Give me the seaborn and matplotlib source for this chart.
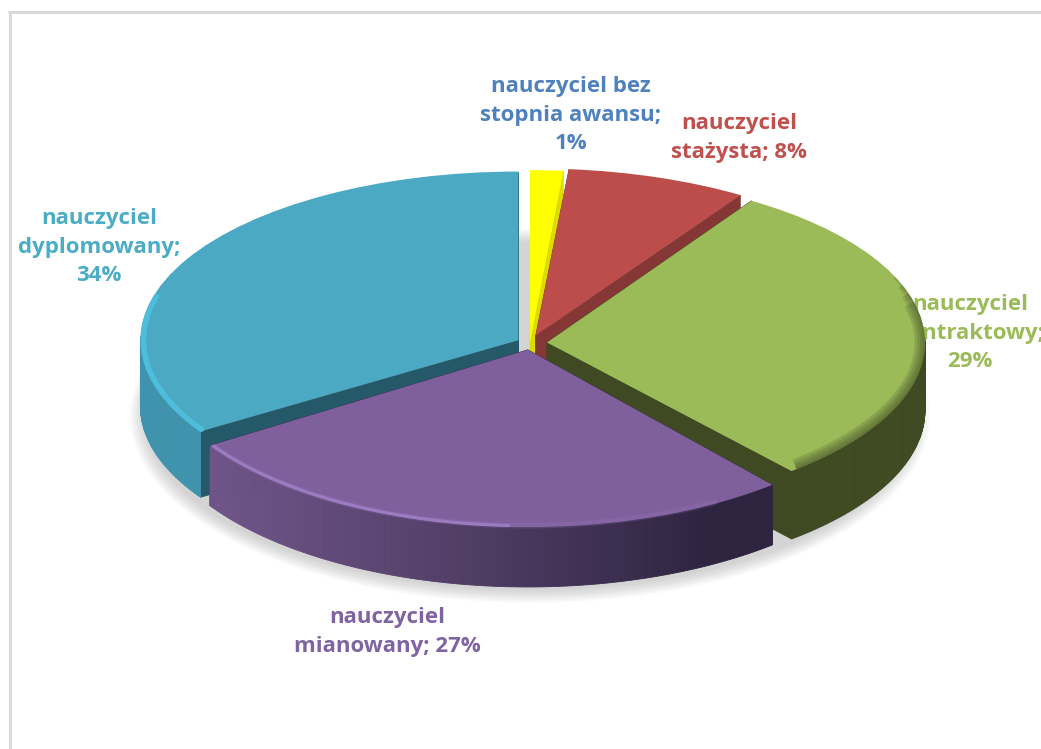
import numpy as np
import matplotlib
matplotlib.use("Agg")
import matplotlib.pyplot as plt
from matplotlib.colors import to_rgb
from matplotlib.patches import Ellipse
from matplotlib.transforms import Affine2D
import seaborn as sns

# dane
labels = ["nauczyciel bez\nstopnia awansu;\n1%", "nauczyciel\nstażysta; 8%",
          "nauczyciel\nkontraktowy;\n29%", "nauczyciel\nmianowany; 27%",
          "nauczyciel\ndyplomowany;\n34%"]
shares = [1.4, 7.7, 29.7, 27.1, 34.1]
explode = [0.005, 0.047, 0.045, 0.04, 0.035]
top_colors = ["#FFFF00", "#BC4D4A", "#9BBB59", "#7F5F9C", "#4BA9C4"]
face_colors = ["#DCDC00", "#843735", "#3F4A22", "#3A2C4C", "#255868"]
side_colors = ["#DCDC00", "#843735", "#3F4A22", "#6B5285", "#3F93AC"]
text_colors = ["#4F81BD", "#C0504D", "#9BBB59", "#8064A2", "#4BACC6"]
label_pos = [(571, 115), (739, 138), (970, 333), (387, 632), (99, 247)]
y_scale = [1.0, 0.97, 0.98, 1.03, 0.98]
depth_px = [62, 62, 68, 60, 66]

# geometria w pikselach
W, H = 1041, 749
CX, CY, RX, RY = 530, 343, 378, 172

sns.set_theme(style="white")
plt.rcParams["font.family"] = ["Open Sans", "DejaVu Sans"]

fig = plt.figure(figsize=(W / 100, H / 100), dpi=100)
ax = fig.add_axes([0, 0, 1, 1])

wedges, _ = ax.pie(shares, explode=explode, colors=sns.color_palette(top_colors),
                   startangle=90, counterclock=False, radius=1, center=(0, 0),
                   wedgeprops={"linewidth": 0})
ax.set_aspect("auto")
ax.set_xlim(-CX / RX, (W - CX) / RX)
ax.set_ylim((CY - H) / RY, CY / RY)
ax.axis("off")

# cien pod wykresem
for k in range(12):
    ax.add_patch(Ellipse((0, -73 / RY), 2 * (400 - k * 1.4) / RX, 2 * (187 - k * 1.2) / RY,
                         color="#9A9A9A", alpha=0.04, lw=0, zorder=1))


def arc(w, sy, theta, r=1.0):
    t = np.radians(theta)
    x0, y0 = w.center
    return x0 + r * np.cos(t), y0 + r * sy * np.sin(t)


def mix(c1, c2, f):
    a, b = np.array(to_rgb(c1)), np.array(to_rgb(c2))
    return tuple(a + (b - a) * f)


# kolejnosc od tylu do przodu
order = [4, 0, 1, 2, 3]
for z, i in enumerate(order):
    w = wedges[i]
    sy = y_scale[i]
    depth = depth_px[i] / RY
    base = 10 + z * 10
    x0, y0 = w.center

    # sciany wewnetrzne
    for th in (w.theta1, w.theta2):
        xe, ye = arc(w, sy, th)
        ax.fill([x0, xe, xe, x0], [y0, ye, ye - depth, y0 - depth],
                color=face_colors[i], lw=0.5, zorder=base)

    # sciana boczna
    thetas = np.linspace(w.theta1, w.theta2, 160)
    for a, b in zip(thetas[:-1], thetas[1:]):
        if np.sin(np.radians((a + b) / 2)) > 0.02:
            continue
        xa, ya = arc(w, sy, a)
        xb, yb = arc(w, sy, b)
        col = side_colors[i]
        if i == 3:
            f = (xa - (-0.83)) / (1.29)
            col = mix("#6E5488", "#2E2440", np.clip(f, 0, 1) ** 1.1)
        ax.fill([xa, xb, xb, xa], [ya, yb, yb - depth, ya - depth],
                color=col, lw=0.6, zorder=base + 1)

    w.set_transform(Affine2D().translate(-x0, -y0).scale(1, sy).translate(x0, y0) + ax.transData)
    w.set_zorder(base + 2)

    # krawedz gorna, katy w pie ida ujemnie dla przodu
    if i == 2:
        for end, lw in zip([14, 17, 20, 23], [15, 11, 7, 3]):
            th = np.linspace(w.theta1 + 1, end, 80)
            xs, ys = arc(w, sy, th, 1.0)
            rim, = ax.plot(xs, ys, color="#3F4A22", alpha=0.2, lw=lw, solid_capstyle="butt", zorder=base + 3)
            rim.set_clip_path(w)
    if i == 3:
        th = np.linspace(w.theta1 + 0.5, -60, 80)
        xs, ys = arc(w, sy, th, 0.993)
        ax.plot(xs[:50], ys[:50], color="#A585CC", lw=2.2, alpha=0.75, zorder=base + 3)
        ax.plot(xs, ys, color="#A585CC", lw=4, alpha=0.18, zorder=base + 3)
    if i == 4:
        th = np.linspace(w.theta2 - 0.5, -195, 80)
        xs, ys = arc(w, sy, th, 0.992)
        ax.plot(xs, ys, color="#4FC0E0", lw=4, alpha=0.85, zorder=base + 3)

# etykiety
for i, (txt, (px, py)) in enumerate(zip(labels, label_pos)):
    # etykieta zielona chowa sie czesciowo pod wycinkiem
    zo = 5 if i == 2 else 100
    ax.text((px - CX) / RX, (CY - py) / RY, txt, color=text_colors[i], ha="center", va="center",
            fontsize=16, fontweight="bold", linespacing=1.48, zorder=zo)

# ramka
fig.add_artist(plt.Line2D([9.5 / W, 9.5 / W], [0, 1 - 11.5 / H], color="#D9D9D9", lw=2.2))
fig.add_artist(plt.Line2D([8.5 / W, 1], [1 - 11.5 / H, 1 - 11.5 / H], color="#D9D9D9", lw=2.2))

fig.savefig("out.png", dpi=100, facecolor="white")
